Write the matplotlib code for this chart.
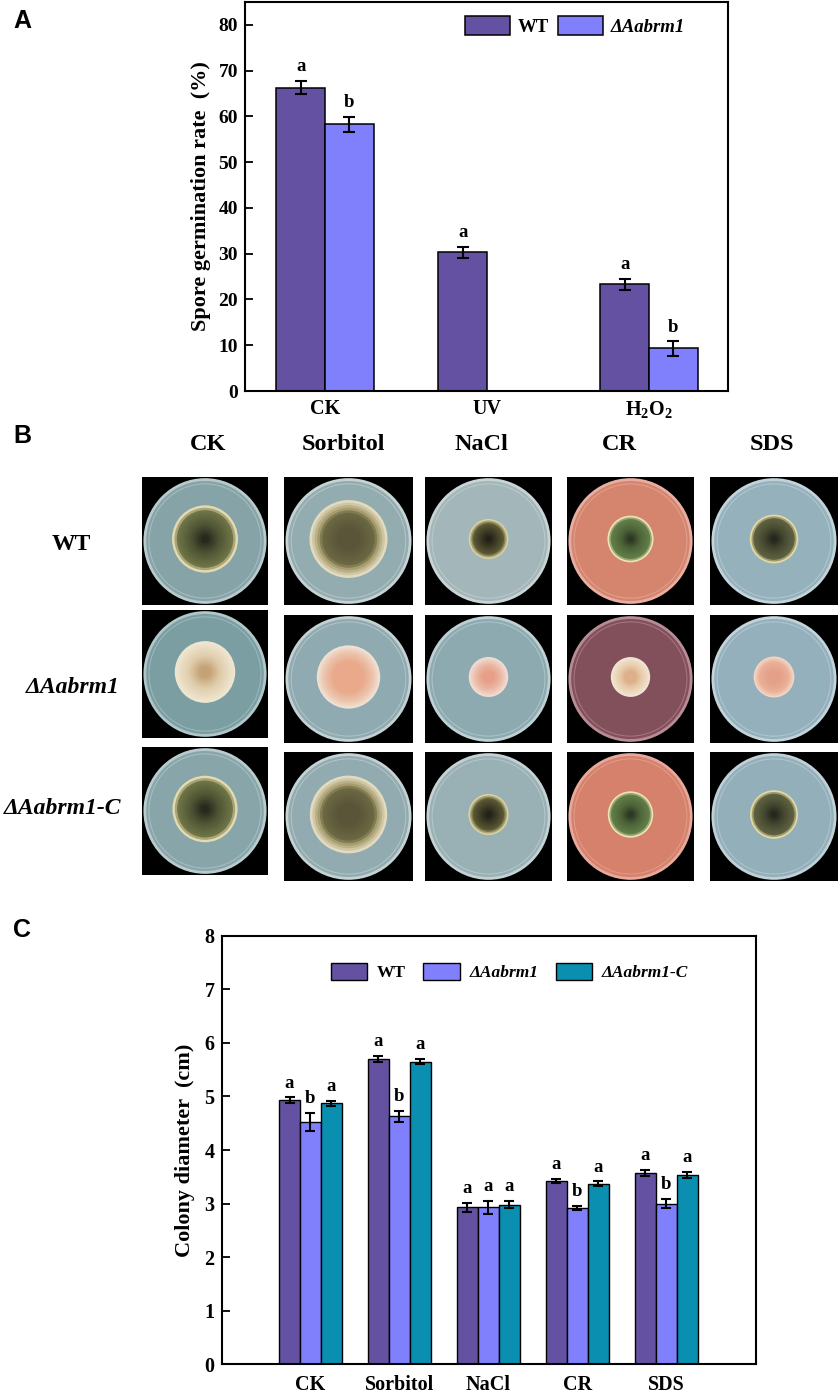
import numpy as np
import matplotlib.pyplot as plt
from matplotlib.patches import Ellipse, Rectangle, Patch
from matplotlib.colors import to_rgb

plt.rcParams['font.family'] = ['Liberation Serif', 'DejaVu Serif']
plt.rcParams['font.weight'] = 'bold'
plt.rcParams['mathtext.fontset'] = 'custom'
plt.rcParams['mathtext.rm'] = 'Liberation Serif:bold'
plt.rcParams['mathtext.it'] = 'Liberation Serif:italic:bold'
plt.rcParams['mathtext.bf'] = 'Liberation Serif:bold'
plt.rcParams['mathtext.default'] = 'bf'

# ---- panel A data: spore germination rate (%)
a_groups = ['CK', 'UV', 'H$_2$O$_2$']
a_wt = [66.3, 30.3, 23.3]
a_wt_err = [1.5, 1.2, 1.2]
a_ko = [58.3, 0.0, 9.3]
a_ko_err = [1.6, 0.0, 1.6]
a_wt_sig = ['a', 'a', 'a']
a_ko_sig = ['b', '', 'b']

# ---- panel C data: colony diameter (cm)
c_groups = ['CK', 'Sorbitol', 'NaCl', 'CR', 'SDS']
c_wt = [4.93, 5.70, 2.93, 3.42, 3.57]
c_wt_err = [0.05, 0.06, 0.08, 0.04, 0.06]
c_ko = [4.52, 4.63, 2.93, 2.92, 3.00]
c_ko_err = [0.17, 0.10, 0.12, 0.04, 0.09]
c_co = [4.87, 5.65, 2.98, 3.37, 3.53]
c_co_err = [0.05, 0.05, 0.07, 0.05, 0.06]
c_wt_sig = ['a', 'a', 'a', 'a', 'a']
c_ko_sig = ['b', 'b', 'a', 'b', 'b']
c_co_sig = ['a', 'a', 'a', 'a', 'a']

# ---- strain names
strains = ['WT', 'ΔAabrm1', 'ΔAabrm1-C']
strain_italic = [False, True, True]

col_wt = '#6451a1'
col_ko = '#8080fd'
col_co = '#0b8fb1'

W, H = 839, 1395
fig = plt.figure(figsize=(W / 100, H / 100), dpi=100)


def px_axes(x0, y0, x1, y1):
    return fig.add_axes([x0 / W, 1 - y1 / H, (x1 - x0) / W, (y1 - y0) / H])


def style_axes(ax, fs):
    for s in ax.spines.values():
        s.set_linewidth(1.5)
    ax.tick_params(axis='y', direction='in', length=6, width=1.3, pad=5, labelsize=fs)
    ax.tick_params(axis='x', length=0, labelsize=fs)
    for lab in ax.get_yticklabels() + ax.get_xticklabels():
        lab.set_fontweight('bold')


def italicize_legend(leg):
    for t, it in zip(leg.get_texts(), strain_italic):
        if it:
            t.set_fontstyle('italic')


# ================= Panel A
axA = px_axes(245, 2, 728, 391)
xa = np.arange(len(a_groups))
bw = 0.3
axA.bar(xa - bw / 2, a_wt, bw, color=col_wt, edgecolor='black', linewidth=1.1)
axA.bar(xa + bw / 2, a_ko, bw, color=col_ko, edgecolor='black', linewidth=1.1)
for i in range(len(a_groups)):
    for off, v, e, s in [(-bw / 2, a_wt[i], a_wt_err[i], a_wt_sig[i]),
                         (bw / 2, a_ko[i], a_ko_err[i], a_ko_sig[i])]:
        if v > 0:
            axA.errorbar(xa[i] + off, v, yerr=e, fmt='none', ecolor='black',
                         elinewidth=1.5, capsize=4, capthick=1.5)
        if s:
            axA.annotate(s, (xa[i] + off, v + e), xytext=(0, 4), textcoords='offset points',
                         ha='center', va='bottom', fontsize=13.5, fontweight='bold')
axA.set_xlim(-0.494, 2.488)
axA.set_ylim(0, 85)
axA.set_yticks(np.arange(0, 81, 10))
axA.set_xticks(xa)
axA.set_xticklabels(a_groups)
axA.set_ylabel('Spore germination rate  (%)', fontsize=16, fontweight='bold', labelpad=5)
style_axes(axA, 14)
axA.tick_params(axis='x', pad=6, labelsize=14.5)
handlesA = [Patch(facecolor=col_wt, edgecolor='black', linewidth=1.1, label=strains[0]),
            Patch(facecolor=col_ko, edgecolor='black', linewidth=1.1, label=strains[1])]
legA = axA.legend(handles=handlesA, loc='center', bbox_to_anchor=(0.683, 0.938), ncol=2,
                  frameon=False, fontsize=13.5, handlelength=2.4, handleheight=1.15,
                  handletextpad=0.4, columnspacing=0.5, borderpad=0)
italicize_legend(legA)

# ================= Panel C
axC = px_axes(221.5, 935.7, 756, 1364.3)
xc = np.arange(len(c_groups))
bw = 0.235
series = [(c_wt, c_wt_err, c_wt_sig, col_wt, -bw),
          (c_ko, c_ko_err, c_ko_sig, col_ko, 0.0),
          (c_co, c_co_err, c_co_sig, col_co, bw)]
for vals, errs, sigs, col, off in series:
    axC.bar(xc + off, vals, bw, color=col, edgecolor='black', linewidth=1.0)
    axC.errorbar(xc + off, vals, yerr=errs, fmt='none', ecolor='black',
                 elinewidth=1.5, capsize=3.5, capthick=1.5)
    for i in range(len(c_groups)):
        axC.annotate(sigs[i], (xc[i] + off, vals[i] + errs[i]), xytext=(0, 4),
                     textcoords='offset points', ha='center', va='bottom',
                     fontsize=13.5, fontweight='bold')
axC.set_xlim(-1.0, 5.01)
axC.set_ylim(0, 8)
axC.set_yticks(np.arange(0, 9, 1))
axC.set_xticks(xc)
axC.set_xticklabels(c_groups)
axC.set_ylabel('Colony diameter  (cm)', fontsize=16, fontweight='bold', labelpad=7)
style_axes(axC, 14.5)
axC.tick_params(axis='x', pad=8, labelsize=14.5)
handlesC = [Patch(facecolor=c, edgecolor='black', linewidth=1.0, label=l)
            for c, l in zip([col_wt, col_ko, col_co], strains)]
legC = axC.legend(handles=handlesC, loc='center', bbox_to_anchor=(0.539, 0.915), ncol=3,
                  frameon=False, fontsize=12.5, handlelength=2.1, handleheight=1.1,
                  handletextpad=0.55, columnspacing=1.0, borderpad=0)
italicize_legend(legC)

# ================= Panel B (drawn plates)
axB = px_axes(0, 410, W, 895)
axB.set_xlim(0, W)
axB.set_ylim(895, 410)
axB.axis('off')

col_box = [(142, 268), (284, 413), (425, 552), (567, 694), (710, 838)]
row_box = [[(477, 605)] * 5,
           [(610, 738)] + [(615, 743)] * 4,
           [(747, 875)] + [(752, 881)] * 4]
header_x = [208, 343, 481, 619, 772]
row_label_xy = [(71, 545), (73, 688), (63, 808)]

agar = [['#86a3a8', '#93acb0', '#a3b6b9', '#d5856e', '#95b1bc'],
        ['#7a9ea2', '#8faab0', '#8daab1', '#82505b', '#94b0bd'],
        ['#88a6aa', '#92abb0', '#99b1b5', '#d6816b', '#93afba']]
rim = [['#b9cacc', '#c6d3d4', '#c9d4d5', '#e8aea2', '#c2d3da'],
       ['#b0c6c8', '#c3d1d3', '#bfd0d3', '#b88c95', '#c2d3da'],
       ['#bacbcd', '#c5d2d3', '#c5d2d4', '#e7a99c', '#c0d0d7']]
# colony colour stops (outer fraction -> colour)
wt_stops = [[(1.0, '#e4dab0'), (0.86, '#6e7446'), (0.45, '#4d5233'), (0.12, '#262a1c')],
            [(1.0, '#e3dbc0'), (0.80, '#a59b6c'), (0.70, '#6b6843'), (0.3, '#5a5538')],
            [(1.0, '#dcd3a2'), (0.80, '#5c5a34'), (0.40, '#3a3823'), (0.12, '#22211a')],
            [(1.0, '#ede4b6'), (0.88, '#637f49'), (0.45, '#4c6338'), (0.12, '#2d3824')],
            [(1.0, '#e4d9a4'), (0.86, '#5f6240'), (0.45, '#45482f'), (0.12, '#25281d')]]
ko_stops = [[(1.0, '#efe6d1'), (0.55, '#e0ccab'), (0.2, '#c4a275')],
            [(1.0, '#efe1d3'), (0.80, '#ecc4ad'), (0.5, '#e9a98a')],
            [(1.0, '#f0ddd3'), (0.65, '#ebb7a3'), (0.3, '#e6a089')],
            [(1.0, '#f0e5d3'), (0.60, '#e8ccaa'), (0.3, '#dcb08a')],
            [(1.0, '#f3d6c4'), (0.75, '#ebb099'), (0.35, '#e5a08a')]]
co_stops = wt_stops


def draw_colony(ax, cx, cy, w, h, stops, n=14):
    fr = [s[0] for s in stops]
    cols = np.array([to_rgb(s[1]) for s in stops])
    for f in np.linspace(1.0, fr[-1] * 0.5, n):
        if f >= fr[-1]:
            c = np.array([np.interp(f, fr[::-1], cols[::-1, k]) for k in range(3)])
        else:
            c = cols[-1]
        ax.add_patch(Ellipse((cx, cy), w * f, h * f, facecolor=c, edgecolor='none'))


diam = [c_wt, c_ko, c_co]
stops_all = [wt_stops, ko_stops, co_stops]
for r in range(3):
    for c in range(5):
        x0, x1 = col_box[c]
        y0, y1 = row_box[r][c]
        axB.add_patch(Rectangle((x0, y0), x1 - x0, y1 - y0, facecolor='black', edgecolor='none'))
        cx, cy = (x0 + x1) / 2, (y0 + y1) / 2
        dw, dh = (x1 - x0) * 0.955, (y1 - y0) * 0.96
        axB.add_patch(Ellipse((cx, cy), dw, dh, facecolor=agar[r][c], edgecolor=rim[r][c], linewidth=2.0))
        axB.add_patch(Ellipse((cx, cy), dw * 0.93, dh * 0.93, facecolor='none',
                              edgecolor=rim[r][c], linewidth=0.8, alpha=0.6))
        cw = diam[r][c] / 9.0 * dw
        draw_colony(axB, cx, cy - 2, cw, cw * dh / dw, stops_all[r][c])

for lab, x in zip(c_groups, header_x):
    axB.text(x, 445, lab, ha='center', va='center', fontsize=17.5, fontweight='bold')
for lab, it, (x, y) in zip(strains, strain_italic, row_label_xy):
    axB.text(x, y, lab, ha='center', va='center', fontsize=17, fontweight='bold',
             fontstyle='italic' if it else 'normal')

# panel letters
for lab, y in [('A', 21), ('B', 436), ('C', 930)]:
    fig.text(13 / W, 1 - y / H, lab, ha='left', va='center', fontsize=18,
             fontweight='bold', family='Liberation Sans')

fig.savefig('out.png', dpi=100)
